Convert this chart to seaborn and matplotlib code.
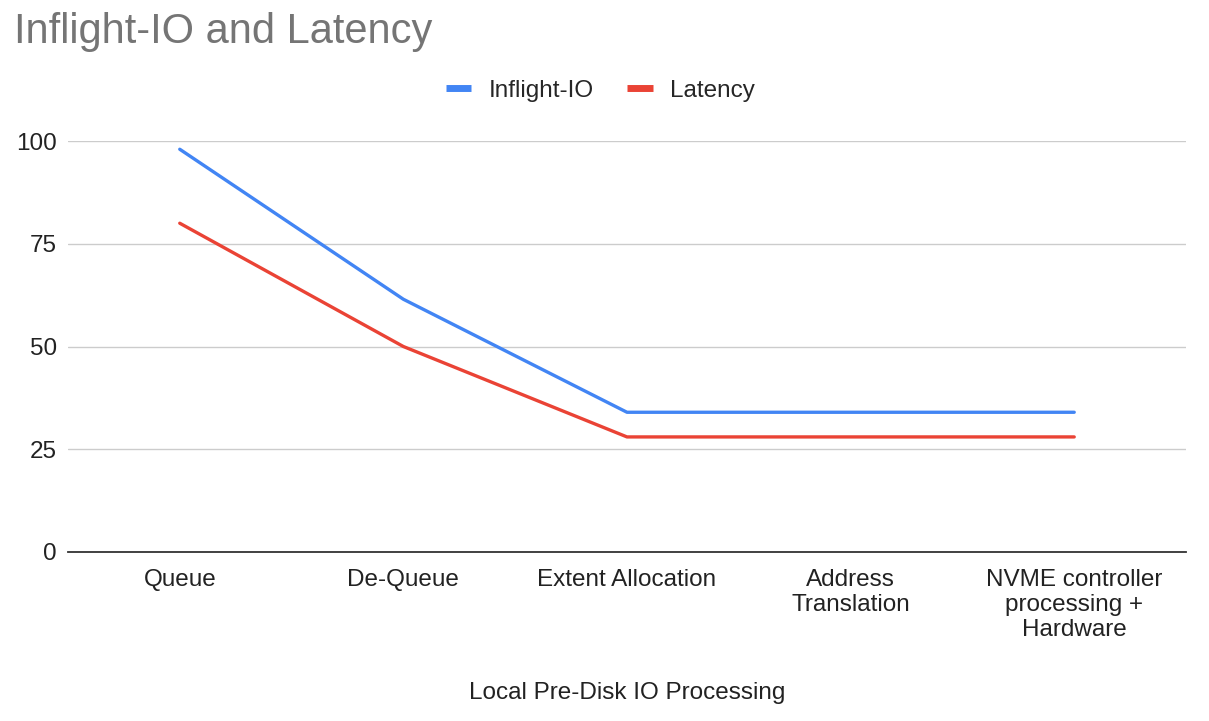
import pandas as pd
import numpy as np
import seaborn as sns
import matplotlib
matplotlib.use('Agg')
import matplotlib.pyplot as plt


stages = ['Queue', 'De-Queue', 'Extent Allocation', 'Address\nTranslation',
          'NVME controller\nprocessing +\nHardware']
inflight_io = [98, 61.5, 34, 34, 34]
latency = [80, 50, 28, 28, 28]
series_names = ['Inflight-IO', 'Latency']
y_ticks = [0, 25, 50, 75, 100]

df = pd.DataFrame({
    'stage': stages * 2,
    'pos': list(range(len(stages))) * 2,
    'value': inflight_io + latency,
    'series': [series_names[0]] * len(stages) + [series_names[1]] * len(stages),
})

sns.set_theme(style='white')
plt.rcParams['font.family'] = ['Liberation Sans', 'DejaVu Sans']

fig = plt.figure(figsize=(12.09, 7.21), dpi=100)
ax = fig.add_axes([0.0562, 0.2344, 0.9248, 0.5700])

palette = {'Inflight-IO': '#4285F4', 'Latency': '#EA4335'}
sns.lineplot(data=df, x='pos', y='value', hue='series', palette=palette,
             linewidth=2.4, sort=False, ax=ax, legend=False)

fs = 17.5
ax.set_xlim(-0.5, len(stages) - 0.5)
ax.set_ylim(0, 100)
ax.set_yticks(y_ticks)
ax.set_yticklabels([str(t) for t in y_ticks], fontsize=fs, color='#222222')
ax.set_xticks(range(len(stages)))
ax.set_xticklabels(stages, fontsize=fs, color='#222222', linespacing=1.16)
ax.tick_params(axis='both', length=0, pad=8)
ax.tick_params(axis='x', pad=12.5)
ax.yaxis.grid(True, color='#cccccc', linewidth=1)
ax.set_axisbelow(True)
for side in ['top', 'right', 'left']:
    ax.spines[side].set_visible(False)
ax.spines['bottom'].set_color('#333333')
ax.spines['bottom'].set_linewidth(1.3)
ax.set_xlabel('Local Pre-Disk IO Processing', fontsize=fs, color='#222222', labelpad=30)
ax.set_ylabel('')

fig.text(0.0115, 0.955, 'Inflight-IO and Latency', fontsize=30, color='#757575',
         ha='left', va='center')

# legend drawn manually at top center
handles = [plt.Line2D([0], [0], color=palette[s], linewidth=5, solid_capstyle='butt')
           for s in series_names]
fig.legend(handles, series_names, loc='center', bbox_to_anchor=(0.4965, 0.874),
           ncol=2, frameon=False, fontsize=fs, handlelength=1.05, handletextpad=0.7,
           columnspacing=1.4)

fig.savefig('out.png', dpi=100)
